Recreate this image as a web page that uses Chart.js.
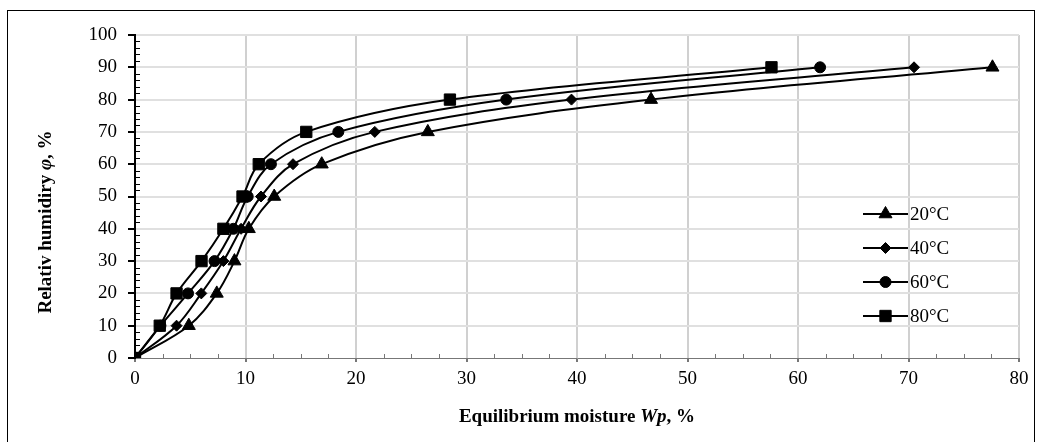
<!DOCTYPE html>
<html>
<head>
<meta charset="utf-8">
<script src="https://cdn.jsdelivr.net/npm/chart.js@4.4.1/dist/chart.umd.min.js"></script>
<style>
  html, body { margin: 0; padding: 0; background: #fff; }
  #wrap { position: relative; width: 1044px; height: 442px; }
  #frame { position: absolute; left: 7px; top: 10px; width: 1028px; height: 440px; border: 1px solid #000; box-sizing: border-box; pointer-events: none; }
</style>
</head>
<body>
<div id="wrap">
  <canvas id="chart" width="1044" height="442"></canvas>
  <div id="frame"></div>
</div>
<script>
// === DATA ===
var humidity = [0, 10, 20, 30, 40, 50, 60, 70, 80, 90];
var moist20 = [0, 4.87, 7.4, 9.0, 10.3, 12.6, 16.9, 26.5, 46.7, 77.6];
var moist40 = [0, 3.76, 6.0, 8.0, 9.6, 11.4, 14.3, 21.7, 39.5, 70.5];
var moist60 = [0, 2.3, 4.8, 7.2, 8.9, 10.2, 12.3, 18.4, 33.6, 62.0];
var moist80 = [0, 2.24, 3.76, 6.02, 8.0, 9.73, 11.2, 15.5, 28.5, 57.6];
var seriesLabels = ['20°C', '40°C', '60°C', '80°C'];
var xTicks = [0, 10, 20, 30, 40, 50, 60, 70, 80];
var yTicks = [0, 10, 20, 30, 40, 50, 60, 70, 80, 90, 100];

var FONT = '"Liberation Serif", "Times New Roman", serif';

function toPoints(xs) {
  return xs.map(function(x, i) { return { x: x, y: humidity[i] }; });
}

function makeSet(label, xs, style, radius) {
  return {
    label: label,
    data: toPoints(xs),
    showLine: true,
    borderColor: '#000', backgroundColor: '#000', borderWidth: 2,
    pointStyle: style, pointRadius: radius, pointHoverRadius: radius,
    pointBackgroundColor: '#000', pointBorderColor: '#000', pointBorderWidth: 1,
    tension: 0.35
  };
}

// minor ticks, legend and axis titles drawn on top of the chart
var extrasPlugin = {
  id: 'extras',
  afterDraw: function(chart) {
    var ctx = chart.ctx;
    var xs = chart.scales.x, ys = chart.scales.y;
    var area = chart.chartArea;
    ctx.save();
    ctx.strokeStyle = '#000';
    ctx.lineWidth = 1;
    // y minor ticks (every 2), inside the plot
    for (var v = 0; v <= 100; v += 2) {
      if (v % 10 === 0) continue;
      var py = Math.round(ys.getPixelForValue(v)) + 0.5;
      ctx.beginPath(); ctx.moveTo(area.left, py); ctx.lineTo(area.left + 5, py); ctx.stroke();
    }
    // x minor ticks (every 2.5)
    ctx.strokeStyle = '#777';
    for (var u = 0; u <= 80; u += 2.5) {
      if (u % 10 === 0) continue;
      var px = Math.round(xs.getPixelForValue(u)) + 0.5;
      ctx.beginPath(); ctx.moveTo(px, area.bottom); ctx.lineTo(px, area.bottom - 4); ctx.stroke();
    }

    // legend: line + marker + text
    var lx0 = 863, lx1 = 908, rows = [214, 248, 282, 316];
    chart.data.datasets.forEach(function(ds, i) {
      var y = rows[i];
      ctx.strokeStyle = '#000'; ctx.lineWidth = 2;
      ctx.beginPath(); ctx.moveTo(lx0, y); ctx.lineTo(lx1, y); ctx.stroke();
      ctx.fillStyle = '#000'; ctx.lineWidth = 1;
      Chart.helpers.drawPoint(ctx, { pointStyle: ds.pointStyle, radius: ds.pointRadius, borderWidth: 1 }, (lx0 + lx1) / 2, y);
      ctx.font = '19px ' + FONT;
      ctx.textAlign = 'left'; ctx.textBaseline = 'middle';
      ctx.fillText(ds.label, lx1 + 2, y + 1);
    });

    // axis titles with mixed bold / bold-italic runs
    function drawRuns(runs, cx, cy) {
      var total = 0;
      runs.forEach(function(r) { ctx.font = r[1] + ' 19px ' + FONT; r.w = ctx.measureText(r[0]).width; total += r.w; });
      var x = cx - total / 2;
      ctx.textAlign = 'left'; ctx.textBaseline = 'middle'; ctx.fillStyle = '#000';
      runs.forEach(function(r) { ctx.font = r[1] + ' 19px ' + FONT; ctx.fillText(r[0], x, cy); x += r.w; });
    }
    drawRuns([['Equilibrium moisture ', 'bold'], ['Wp', 'italic bold'], [', %', 'bold']], (area.left + area.right) / 2, 417);
    ctx.save();
    ctx.translate(46, 222);
    ctx.rotate(-Math.PI / 2);
    drawRuns([['Relativ humidiry ', 'bold'], ['φ', 'italic bold'], [', %', 'bold']], 0, 0);
    ctx.restore();
    ctx.restore();
  }
};

var chart = new Chart(document.getElementById('chart').getContext('2d'), {
  type: 'scatter',
  data: {
    datasets: [
      makeSet(seriesLabels[0], moist20, 'triangle', 7.5),
      makeSet(seriesLabels[1], moist40, 'rectRot', 5.5),
      makeSet(seriesLabels[2], moist60, 'circle', 5.5),
      makeSet(seriesLabels[3], moist80, 'rect', 8)
    ]
  },
  options: {
    responsive: false, animation: false, maintainAspectRatio: false,
    layout: { padding: { left: 0, top: 35, right: 25, bottom: 0 } },
    plugins: { legend: { display: false }, tooltip: { enabled: false } },
    scales: {
      x: {
        type: 'linear', min: 0, max: 80,
        afterBuildTicks: function(s) { s.ticks = xTicks.map(function(v) { return { value: v }; }); },
        afterFit: function(s) { s.height = 84; },
        border: { color: '#777', width: 1 },
        grid: { color: function(c) { return c.tick && c.tick.value === 0 ? 'rgba(0,0,0,0)' : '#d0d0d0'; }, lineWidth: 2, tickLength: 4, tickColor: '#777' },
        ticks: { autoSkip: false, maxRotation: 0, padding: 6, color: '#000', font: { family: FONT, size: 19 } }
      },
      y: {
        type: 'linear', min: 0, max: 100,
        afterBuildTicks: function(s) { s.ticks = yTicks.map(function(v) { return { value: v }; }); },
        afterFit: function(s) { s.width = 135; },
        border: { color: '#000', width: 2 },
        grid: { color: function(c) { return c.tick && c.tick.value === 0 ? 'rgba(0,0,0,0)' : '#e0e0e0'; }, lineWidth: 2, tickLength: 7, tickColor: '#000' },
        ticks: { autoSkip: false, padding: 11, color: '#000', font: { family: FONT, size: 19 } }
      }
    }
  },
  plugins: [extrasPlugin]
});
</script>
</body>
</html>
